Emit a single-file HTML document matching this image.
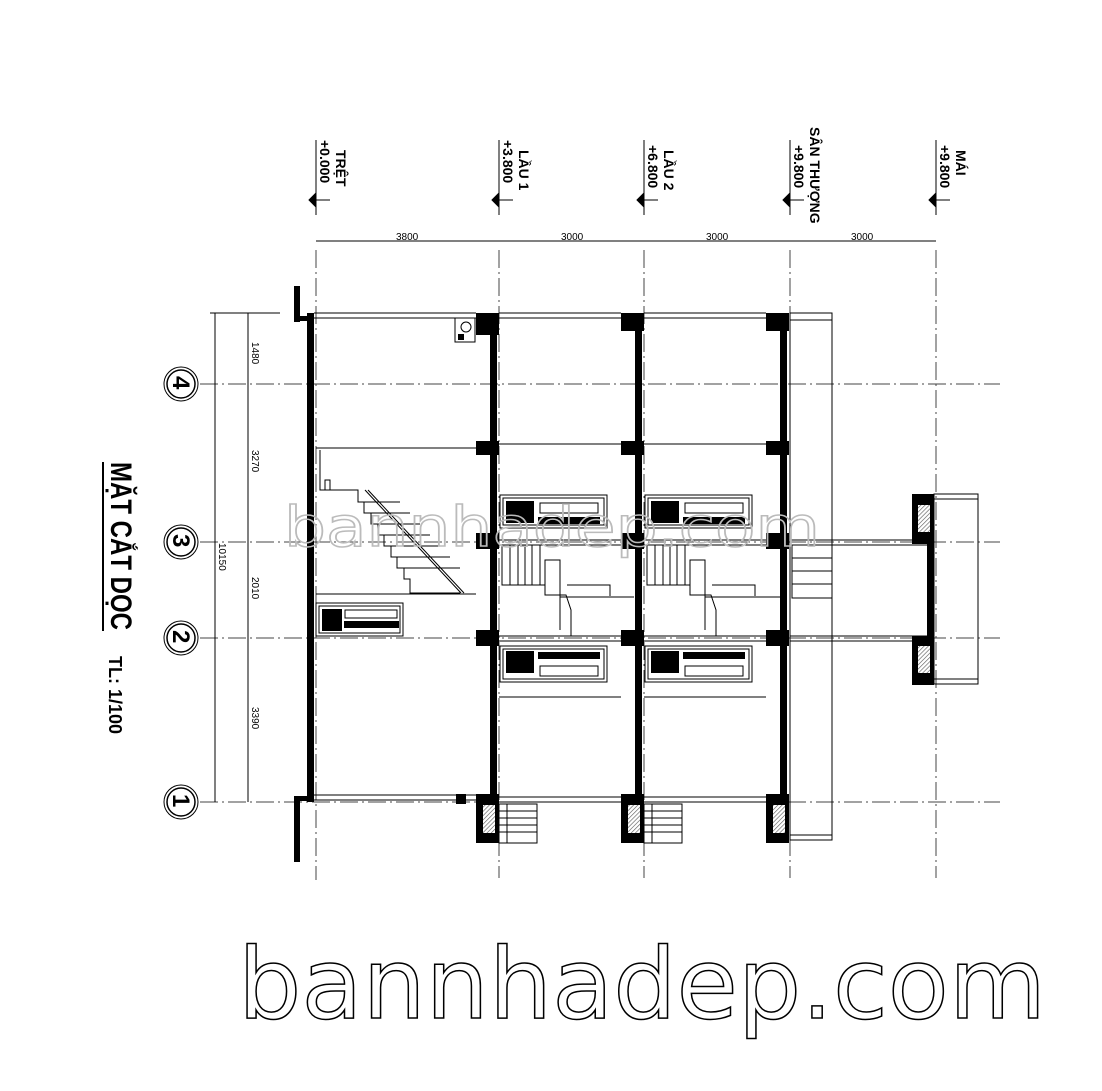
<!DOCTYPE html>
<html><head><meta charset="utf-8"><style>
html,body{margin:0;padding:0;background:#fff;}
svg{display:block;}
text{font-family:"Liberation Sans","DejaVu Sans",sans-serif;}
text.wm{font-family:"DejaVu Sans",sans-serif;}
</style></head><body>
<svg width="1102" height="1091" viewBox="0 0 1102 1091" xmlns="http://www.w3.org/2000/svg">
<defs>
<pattern id="h" width="3" height="3" patternUnits="userSpaceOnUse" patternTransform="rotate(45)">
<rect width="3" height="3" fill="#fff"/><line x1="0" y1="0" x2="0" y2="3" stroke="#555" stroke-width="1.2"/></pattern>
</defs>
<g stroke="#444" stroke-width="1" stroke-dasharray="18,4,2,4" fill="none">
<line x1="316" y1="250" x2="316" y2="880"/>
<line x1="499" y1="250" x2="499" y2="878"/>
<line x1="644" y1="250" x2="644" y2="878"/>
<line x1="790" y1="250" x2="790" y2="878"/>
<line x1="936" y1="250" x2="936" y2="878"/>
<line x1="200" y1="384" x2="1000" y2="384"/>
<line x1="200" y1="542" x2="1000" y2="542"/>
<line x1="200" y1="638" x2="1000" y2="638"/>
<line x1="200" y1="802" x2="1000" y2="802"/>
</g>
<g stroke="#000" stroke-width="1" fill="#000">
<line x1="316" y1="140" x2="316" y2="215"/><line x1="316" y1="200" x2="330" y2="200"/><path d="M309 200 L316 193 L316 207 Z"/>
<line x1="499" y1="140" x2="499" y2="215"/><line x1="499" y1="200" x2="513" y2="200"/><path d="M492 200 L499 193 L499 207 Z"/>
<line x1="644" y1="140" x2="644" y2="215"/><line x1="644" y1="200" x2="658" y2="200"/><path d="M637 200 L644 193 L644 207 Z"/>
<line x1="790" y1="140" x2="790" y2="215"/><line x1="790" y1="200" x2="804" y2="200"/><path d="M783 200 L790 193 L790 207 Z"/>
<line x1="936" y1="140" x2="936" y2="215"/><line x1="936" y1="200" x2="950" y2="200"/><path d="M929 200 L936 193 L936 207 Z"/>
</g>
<g font-weight="bold" font-size="14" fill="#000">
<text transform="translate(320,140) rotate(90)">+0.000</text>
<text transform="translate(336,150) rotate(90)">TRỆT</text>
<text transform="translate(503,140) rotate(90)">+3.800</text>
<text transform="translate(519,150) rotate(90)">LẦU 1</text>
<text transform="translate(648,145) rotate(90)">+6.800</text>
<text transform="translate(664,150) rotate(90)">LẦU 2</text>
<text transform="translate(794,145) rotate(90)">+9.800</text>
<text transform="translate(810,127) rotate(90)">SÂN THƯỢNG</text>
<text transform="translate(940,145) rotate(90)">+9.800</text>
<text transform="translate(956,150) rotate(90)">MÁI</text>
</g>
<line x1="316" y1="241" x2="936" y2="241" stroke="#000" stroke-width="1"/>
<g font-size="10" fill="#000">
<text x="396" y="240">3800</text><text x="561" y="240">3000</text><text x="706" y="240">3000</text><text x="851" y="240">3000</text>
</g>
<g stroke="#000" stroke-width="1">
<line x1="215" y1="313" x2="215" y2="802"/>
<line x1="248" y1="313" x2="248" y2="802"/>
<line x1="210" y1="313" x2="280" y2="313"/>
</g>
<g font-size="10" fill="#000">
<text transform="translate(252,342) rotate(90)">1480</text>
<text transform="translate(252,450) rotate(90)">3270</text>
<text transform="translate(219,543) rotate(90)">10150</text>
<text transform="translate(252,577) rotate(90)">2010</text>
<text transform="translate(252,707) rotate(90)">3390</text>
</g>
<g stroke="#000" fill="#fff">
<circle cx="181" cy="384" r="17" stroke-width="1"/><circle cx="181" cy="384" r="14" stroke-width="1.5"/>
<circle cx="181" cy="542" r="17" stroke-width="1"/><circle cx="181" cy="542" r="14" stroke-width="1.5"/>
<circle cx="181" cy="638" r="17" stroke-width="1"/><circle cx="181" cy="638" r="14" stroke-width="1.5"/>
<circle cx="181" cy="802" r="17" stroke-width="1"/><circle cx="181" cy="802" r="14" stroke-width="1.5"/>
</g>
<g font-weight="bold" font-size="24" fill="#000">
<text transform="translate(173,376) rotate(90)">4</text>
<text transform="translate(173,534) rotate(90)">3</text>
<text transform="translate(173,630) rotate(90)">2</text>
<text transform="translate(173,794) rotate(90)">1</text>
</g>
<text transform="translate(111,462) rotate(90)" font-weight="bold" font-size="30" fill="#000" textLength="168" lengthAdjust="spacingAndGlyphs">MẶT CẮT DỌC</text>
<line x1="103" y1="462" x2="103" y2="631" stroke="#000" stroke-width="2"/>
<text transform="translate(109,656) rotate(90)" font-weight="bold" font-size="18" fill="#000">TL: 1/100</text>
<g fill="#000">
<rect x="294" y="286" width="6" height="36"/><rect x="294" y="316" width="14" height="5"/>
<rect x="294" y="796" width="6" height="66"/><rect x="294" y="796" width="14" height="5"/>
<rect x="307" y="313" width="7" height="489"/>
<rect x="490" y="313" width="7" height="490"/>
<rect x="635" y="313" width="7" height="490"/>
<rect x="780" y="313" width="7" height="490"/>
<rect x="476" y="313" width="23" height="22"/><rect x="621" y="313" width="23" height="18"/><rect x="766" y="313" width="23" height="18"/>
<rect x="476" y="441" width="23" height="14"/><rect x="621" y="441" width="23" height="14"/><rect x="766" y="441" width="23" height="14"/>
<rect x="476" y="533" width="23" height="16"/><rect x="621" y="533" width="23" height="16"/><rect x="766" y="533" width="23" height="16"/>
<rect x="476" y="630" width="23" height="16"/><rect x="621" y="630" width="23" height="16"/><rect x="766" y="630" width="23" height="16"/>
<rect x="476" y="794" width="23" height="49"/><rect x="621" y="794" width="23" height="49"/><rect x="766" y="794" width="23" height="49"/>
<rect x="456" y="794" width="10" height="10"/>
<rect x="912" y="494" width="22" height="50"/><rect x="912" y="636" width="22" height="49"/>
<rect x="927" y="542" width="7" height="96"/>
</g>
<g fill="url(#h)">
<rect x="483" y="805" width="12" height="28"/><rect x="628" y="805" width="12" height="28"/><rect x="773" y="805" width="12" height="28"/>
<rect x="918" y="505" width="12" height="27"/><rect x="918" y="646" width="12" height="27"/>
</g>
<g stroke="#000" stroke-width="1" fill="none">
<rect x="934" y="494" width="44" height="190"/><line x1="934" y1="499" x2="978" y2="499"/><line x1="934" y1="679" x2="978" y2="679"/>
<rect x="790" y="313" width="42" height="527"/><line x1="790" y1="320" x2="832" y2="320"/><line x1="790" y1="835" x2="832" y2="835"/>
<line x1="314" y1="313" x2="476" y2="313"/><line x1="314" y1="318" x2="476" y2="318"/>
<line x1="499" y1="313" x2="621" y2="313"/><line x1="499" y1="318" x2="621" y2="318"/>
<line x1="644" y1="313" x2="766" y2="313"/><line x1="644" y1="318" x2="766" y2="318"/>
<line x1="314" y1="795" x2="476" y2="795"/><line x1="314" y1="800" x2="476" y2="800"/>
<line x1="499" y1="797" x2="621" y2="797"/><line x1="499" y1="802" x2="621" y2="802"/>
<line x1="644" y1="797" x2="766" y2="797"/><line x1="644" y1="802" x2="766" y2="802"/>
<line x1="316" y1="448" x2="476" y2="448"/>
<line x1="499" y1="444" x2="621" y2="444"/><line x1="644" y1="444" x2="766" y2="444"/>
<line x1="499" y1="697" x2="621" y2="697"/><line x1="644" y1="697" x2="766" y2="697"/>
<line x1="316" y1="594" x2="476" y2="594"/>
<line x1="499" y1="540" x2="621" y2="540"/><line x1="499" y1="545" x2="621" y2="545"/>
<line x1="644" y1="540" x2="766" y2="540"/><line x1="644" y1="545" x2="766" y2="545"/>
<line x1="790" y1="540" x2="912" y2="540"/><line x1="790" y1="545" x2="927" y2="545"/>
<line x1="499" y1="636" x2="621" y2="636"/><line x1="499" y1="641" x2="621" y2="641"/>
<line x1="644" y1="636" x2="766" y2="636"/><line x1="644" y1="641" x2="766" y2="641"/>
<line x1="790" y1="636" x2="927" y2="636"/><line x1="790" y1="641" x2="912" y2="641"/>
<path d="M320 450 V490 H325 V480 H330 V490 M320 490 H358 V502 H364 V513 H371 V524 H378 V535 H384 V546 H391 V557 H397 V568 H404 V579 H410 V593 H460"/>
<line x1="368" y1="490" x2="464" y2="593"/><line x1="365" y1="490" x2="461" y2="593"/>
<line x1="358" y1="502" x2="400" y2="502"/><line x1="364" y1="513" x2="410" y2="513"/><line x1="371" y1="524" x2="420" y2="524"/><line x1="378" y1="535" x2="430" y2="535"/><line x1="384" y1="546" x2="440" y2="546"/><line x1="391" y1="557" x2="450" y2="557"/><line x1="397" y1="568" x2="460" y2="568"/>
<path d="M502 545 V585 H545 V595 H560 M545 585 V560 H560 V630 M567 585 H610 V596 M545 595 H566 L571 610 V636"/>
<line x1="510" y1="545" x2="510" y2="585"/><line x1="518" y1="545" x2="518" y2="585"/><line x1="525" y1="545" x2="525" y2="585"/><line x1="532" y1="545" x2="532" y2="585"/><line x1="540" y1="545" x2="540" y2="585"/>
<line x1="560" y1="597" x2="634" y2="597"/>
<path d="M647 545 V585 H690 V595 H705 M690 585 V560 H705 V630 M712 585 H755 V596 M690 595 H711 L716 610 V636"/>
<line x1="655" y1="545" x2="655" y2="585"/><line x1="663" y1="545" x2="663" y2="585"/><line x1="670" y1="545" x2="670" y2="585"/><line x1="677" y1="545" x2="677" y2="585"/><line x1="685" y1="545" x2="685" y2="585"/>
<line x1="705" y1="597" x2="780" y2="597"/>
<rect x="792" y="545" width="40" height="53"/><line x1="792" y1="558" x2="832" y2="558"/><line x1="792" y1="571" x2="832" y2="571"/><line x1="792" y1="584" x2="832" y2="584"/>
<rect x="499" y="804" width="38" height="39"/><rect x="644" y="804" width="38" height="39"/>
<line x1="507" y1="804" x2="507" y2="843"/><line x1="652" y1="804" x2="652" y2="843"/>
<line x1="499" y1="811" x2="537" y2="811"/><line x1="499" y1="818" x2="537" y2="818"/><line x1="499" y1="825" x2="537" y2="825"/><line x1="499" y1="832" x2="537" y2="832"/>
<line x1="644" y1="811" x2="682" y2="811"/><line x1="644" y1="818" x2="682" y2="818"/><line x1="644" y1="825" x2="682" y2="825"/><line x1="644" y1="832" x2="682" y2="832"/>
<rect x="500" y="495" width="107" height="33"/><rect x="503" y="498" width="101" height="27"/>
<rect x="645" y="495" width="107" height="33"/><rect x="648" y="498" width="101" height="27"/>
<rect x="500" y="646" width="107" height="36"/><rect x="503" y="649" width="101" height="30"/>
<rect x="645" y="646" width="107" height="36"/><rect x="648" y="649" width="101" height="30"/>
<rect x="316" y="603" width="87" height="33"/><rect x="319" y="606" width="81" height="27"/>
<rect x="540" y="503" width="58" height="10"/><rect x="685" y="503" width="58" height="10"/>
<rect x="540" y="666" width="58" height="10"/><rect x="685" y="666" width="58" height="10"/>
<rect x="345" y="610" width="52" height="8"/>
<rect x="455" y="318" width="20" height="24"/><circle cx="466" cy="327" r="5"/>
</g>
<g fill="#000">
<rect x="506" y="501" width="28" height="22"/><rect x="651" y="501" width="28" height="22"/>
<rect x="506" y="651" width="28" height="22"/><rect x="651" y="651" width="28" height="22"/>
<rect x="322" y="609" width="20" height="22"/>
<rect x="538" y="517" width="62" height="7"/><rect x="683" y="517" width="62" height="7"/>
<rect x="538" y="652" width="62" height="7"/><rect x="683" y="652" width="62" height="7"/>
<rect x="344" y="621" width="55" height="7"/>
<rect x="458" y="334" width="6" height="6"/>
</g>
<text class="wm" x="284" y="546" font-size="55" fill="none" stroke="#bbb" stroke-width="1.5" textLength="536" lengthAdjust="spacingAndGlyphs">bannhadep.com</text>
<text class="wm" x="238" y="1018" font-size="98" fill="none" stroke="#000" stroke-width="1.5" textLength="808" lengthAdjust="spacingAndGlyphs">bannhadep.com</text>
</svg>
</body></html>
